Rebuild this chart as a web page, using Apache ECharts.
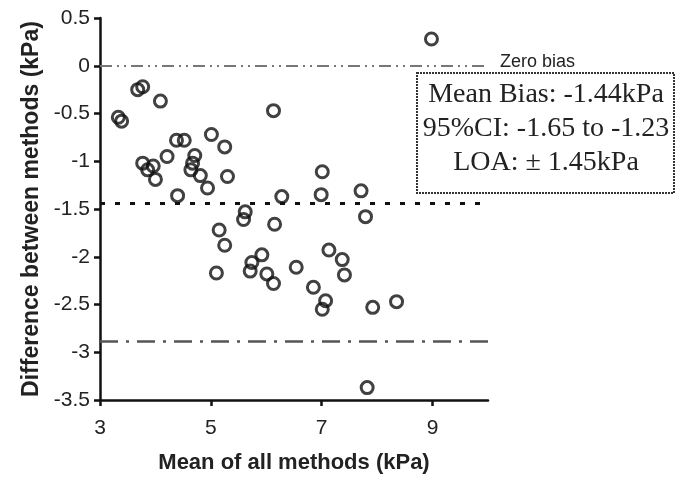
<!DOCTYPE html>
<html>
<head>
<meta charset="utf-8">
<script src="https://cdn.jsdelivr.net/npm/echarts@6/dist/echarts.min.js"></script>
<style>
  html, body { margin: 0; padding: 0; background: #fff; }
  #chart { width: 677px; height: 480px; }
</style>
</head>
<body>
<div id="chart"></div>
<script>
// mean of all methods (kPa)
const meanVals = [
  8.98, 3.68, 3.77, 4.09, 3.33, 3.39, 6.13, 4.38, 4.52, 5.01,
  5.25, 3.77, 3.86, 3.96, 4.00, 4.21, 4.71, 4.67, 4.64, 4.81,
  4.94, 5.30, 4.40, 6.28, 7.01, 6.99, 7.71, 5.62, 5.59, 6.15,
  5.15, 5.25, 5.10, 5.92, 5.74, 5.71, 6.01, 6.13, 7.79, 7.13,
  7.37, 7.41, 6.54, 6.85, 7.07, 7.01, 7.92, 8.35, 7.82
]
// difference between methods (kPa)
const diffVals = [
  0.28, -0.25, -0.22, -0.37, -0.54, -0.58, -0.47, -0.78, -0.78, -0.72,
  -0.85, -1.02, -1.09, -1.05, -1.19, -0.95, -0.94, -1.02, -1.09, -1.15,
  -1.28, -1.16, -1.36, -1.37, -1.11, -1.35, -1.31, -1.53, -1.61, -1.66,
  -1.72, -1.88, -2.17, -1.98, -2.06, -2.15, -2.18, -2.28, -1.58, -1.93,
  -2.03, -2.19, -2.11, -2.32, -2.46, -2.55, -2.53, -2.47, -3.37
]

const ZERO_BIAS = 0
const MEAN_BIAS = -1.44
const LOWER_LOA = -2.89

const xTicks = [3, 5, 7, 9]
const boxLines = ['Mean Bias: -1.44kPa', '95%CI: -1.65 to -1.23', 'LOA: \u00b1 1.45kPa']

const points = meanVals.map((x, i) => [x, diffVals[i]])

const chart = echarts.init(document.getElementById('chart'))

chart.setOption({
  animation: false,
  backgroundColor: '#fff',
  grid: { left: 100, right: 189, top: 18, bottom: 80 },
  xAxis: {
    type: 'value',
    min: 3,
    max: 10,
    name: 'Mean of all methods (kPa)',
    nameLocation: 'middle',
    nameGap: 52,
    nameTextStyle: { fontFamily: 'Liberation Sans', fontWeight: 'bold', fontSize: 22, color: '#222' },
    axisLine: { onZero: false, lineStyle: { color: '#111', width: 2.5 } },
    axisTick: { show: true, customValues: xTicks, length: 6, lineStyle: { color: '#111', width: 2.5 } },
    axisLabel: { customValues: xTicks, fontFamily: 'Liberation Sans', fontSize: 21, color: '#222', margin: 18 },
    splitLine: { show: false }
  },
  yAxis: {
    type: 'value',
    min: -3.5,
    max: 0.5,
    interval: 0.5,
    name: 'Difference between methods (kPa)',
    nameLocation: 'middle',
    nameGap: 50,
    nameTextStyle: { fontFamily: 'Liberation Sans', fontWeight: 'bold', fontSize: 23, color: '#222' },
    axisLine: { onZero: false, lineStyle: { color: '#111', width: 2.5 } },
    axisTick: { show: true, length: 6, lineStyle: { color: '#111', width: 2.5 } },
    axisLabel: { fontFamily: 'Liberation Sans', fontSize: 21, color: '#222', margin: 10 },
    splitLine: { show: false }
  },
  series: [{
    type: 'scatter',
    data: points,
    symbol: 'circle',
    symbolSize: 12,
    itemStyle: { color: 'rgba(255,255,255,0)', borderColor: '#111', borderWidth: 3 },
    markLine: {
      silent: true,
      symbol: 'none',
      label: { show: false },
      data: [
        { yAxis: ZERO_BIAS, lineStyle: { color: '#777', width: 1.8, type: [12, 5, 2, 5, 2, 5] } },
        { yAxis: MEAN_BIAS, lineStyle: { color: '#111', width: 3, type: [5, 10] } },
        { yAxis: LOWER_LOA, lineStyle: { color: '#555', width: 2.5, type: [18, 8, 3, 8] } }
      ]
    }
  }],
  graphic: [
    {
      type: 'text',
      x: 500,
      y: 53,
      style: { text: 'Zero bias', font: '18px "Liberation Sans"', fill: '#222' }
    },
    {
      type: 'rect',
      x: 417,
      y: 73,
      shape: { width: 257, height: 120 },
      style: { fill: '#fff', stroke: '#333', lineWidth: 2, lineDash: [2, 1] }
    },
    {
      type: 'text',
      x: 546,
      y: 78,
      style: {
        text: boxLines.join('\n'),
        font: '28px "Liberation Serif"',
        fill: '#222',
        align: 'center',
        verticalAlign: 'top',
        lineHeight: 34
      }
    }
  ]
})
</script>
</body>
</html>
